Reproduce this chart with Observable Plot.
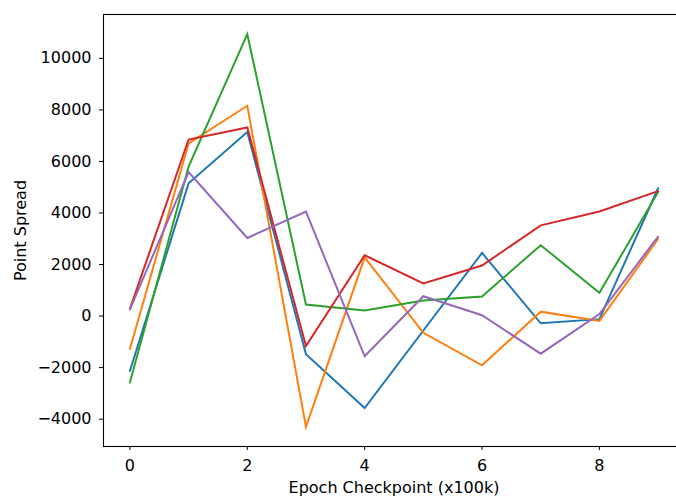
<!DOCTYPE html>
<html>
<head>
<meta charset="utf-8">
<script src="https://cdn.jsdelivr.net/npm/d3@7"></script>
<script src="https://cdn.jsdelivr.net/npm/@observablehq/plot@0.6"></script>
<style>
  html, body { margin: 0; padding: 0; background: #fff; overflow: hidden; }
  #chart { width: 676px; height: 497px; overflow: hidden; }
</style>
</head>
<body>
<div id="chart"></div>
<script>
// Epoch checkpoints (x100k)
const epochs = [0, 1, 2, 3, 4, 5, 6, 7, 8, 9];

// Point spread per run at each checkpoint
const run1 = [-2130, 5150, 7140, -1480, -3570, -560, 2450, -280, -120, 4960];
const run2 = [-1280, 6700, 8160, -4300, 2280, -650, -1910, 170, -190, 2990];
const run3 = [-2580, 5800, 10940, 450, 220, 600, 760, 2750, 900, 4810];
const run4 = [280, 6850, 7320, -1160, 2360, 1265, 1960, 3520, 4060, 4850];
const run5 = [260, 5590, 3030, 4050, -1560, 770, 30, -1460, 80, 3080];

const runNames = ["run1", "run2", "run3", "run4", "run5"];
const runValues = [run1, run2, run3, run4, run5];
const runColors = ["#1f77b4", "#ff7f0e", "#2ca02c", "#d62728", "#9467bd"];

const yTicks = [-4000, -2000, 0, 2000, 4000, 6000, 8000, 10000];
const xTicks = [0, 2, 4, 6, 8];

// long-format table for Plot.line
const rows = [];
runNames.forEach((name, i) => {
  epochs.forEach((e, j) => rows.push({run: name, epoch: e, spread: runValues[i][j]}));
});

// 5% padding on both axes
const pad = (lo, hi) => { const m = (hi - lo) * 0.05; return [lo - m, hi + m]; };
const xDomain = pad(d3.min(epochs), d3.max(epochs));
const yDomain = pad(d3.min(rows, d => d.spread), d3.max(rows, d => d.spread));

const fmt = d => d < 0 ? "\u2212" + Math.abs(d) : String(d);

const W = 676, H = 497;
const chart = Plot.plot({
  width: W,
  height: H,
  marginLeft: 103,
  marginRight: -8,
  marginTop: 14,
  marginBottom: 51,
  style: {fontFamily: "DejaVu Sans", fontSize: "16px", color: "#000", background: "#fff"},
  x: {domain: xDomain, ticks: xTicks, tickFormat: fmt, tickSize: 4, tickPadding: 9, label: null},
  y: {domain: yDomain, ticks: yTicks, tickFormat: fmt, tickSize: 4, tickPadding: 8, label: null},
  color: {domain: runNames, range: runColors},
  marks: [
    Plot.line(rows, {x: "epoch", y: "spread", z: "run", stroke: "run", strokeWidth: 2, strokeLinejoin: "miter", strokeMiterlimit: 10}),
    Plot.frame({stroke: "#000", strokeWidth: 1.1}),
    Plot.text(["Epoch Checkpoint (x100k)"], {frameAnchor: "bottom", dy: 41, text: d => d, fontSize: 16, fill: "#000", lineAnchor: "middle"}),
    Plot.text(["Point Spread"], {frameAnchor: "left", dx: -83, text: d => d, rotate: -90, fontSize: 16, fill: "#000", lineAnchor: "middle", textAnchor: "middle"})
  ]
});
document.getElementById("chart").appendChild(chart);
</script>
</body>
</html>
